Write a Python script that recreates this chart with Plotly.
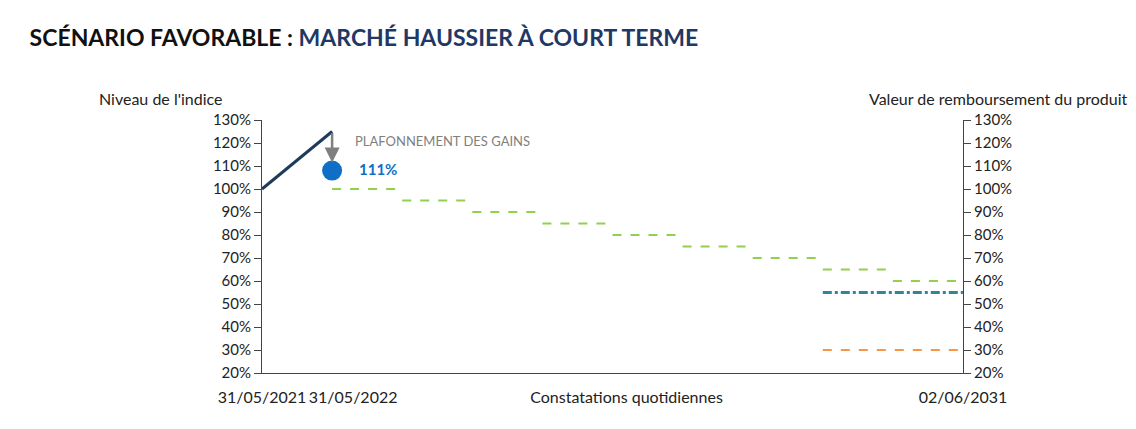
import plotly.graph_objects as go

# data
index_x = [0, 1]
index_y = [100, 125]
cap_x = [1]
cap_y = [108]
step_years = [1, 2, 3, 4, 5, 6, 7, 8, 9, 10]
step_levels = [100, 95, 90, 85, 80, 75, 70, 65, 60]
barrier_level = 55
protection_level = 30
tick_vals = [0, 1.3, 5.2, 10]
tick_text = ["31/05/2021", "31/05/2022", "Constatations quotidiennes", "02/06/2031"]
y_ticks = list(range(20, 131, 10))

fig = go.Figure()
fig.add_trace(go.Scatter(x=index_x, y=index_y, mode="lines",
                         line=dict(color="#1f3b5c", width=3), showlegend=False))
for i, lvl in enumerate(step_levels):
    fig.add_trace(go.Scatter(x=[step_years[i], step_years[i + 1]], y=[lvl, lvl], mode="lines",
                             line=dict(color="#92d050", width=2, dash="dash"), showlegend=False))
fig.add_trace(go.Scatter(x=[8, 10], y=[barrier_level] * 2, mode="lines",
                         line=dict(color="#31849b", width=3, dash="dashdot"), showlegend=False))
fig.add_trace(go.Scatter(x=[8, 10], y=[protection_level] * 2, mode="lines",
                         line=dict(color="#f79646", width=2, dash="dash"), showlegend=False))
fig.add_trace(go.Scatter(x=cap_x, y=cap_y, mode="markers",
                         marker=dict(color="#0f6fc6", size=20), showlegend=False))
fig.add_trace(go.Scatter(x=[0, 10], y=[20, 20], yaxis="y2", mode="lines",
                         line=dict(width=0), hoverinfo="skip", showlegend=False))

fig.add_annotation(x=1, y=111.5, ax=1, ay=125, xref="x", yref="y", axref="x", ayref="y",
                   showarrow=True, arrowhead=2, arrowsize=1.2, arrowwidth=2.5,
                   arrowcolor="#7f7f7f", text="")
fig.add_annotation(x=1.3, y=121, xref="x", yref="y", text="PLAFONNEMENT DES GAINS",
                   showarrow=False, xanchor="left", font=dict(size=13, color="#7f7f7f"))
fig.add_annotation(x=1.35, y=108.5, xref="x", yref="y", text="<b>111%</b>",
                   showarrow=False, xanchor="left", font=dict(size=15, color="#0f6fc6"))

fig.add_annotation(x=0, y=1.0, xref="paper", yref="paper", yshift=10, xshift=-38,
                   text="Niveau de l'indice", showarrow=False, xanchor="right", yanchor="bottom",
                   font=dict(size=16, color="#222"))
fig.add_annotation(x=1, y=1.0, xref="paper", yref="paper", yshift=10, xshift=167,
                   text="Valeur de remboursement du produit", showarrow=False,
                   xanchor="right", yanchor="bottom", font=dict(size=16, color="#222"))

axis_common = dict(range=[20, 130], tickvals=y_ticks, ticktext=[f"{v}%" for v in y_ticks],
                   showgrid=False, zeroline=False, showline=True, linecolor="#444",
                   ticks="outside", ticklen=7, tickcolor="#444", tickfont=dict(size=15, color="#222"))

fig.update_layout(
    width=1136, height=429,
    margin=dict(l=254, r=181, t=112, b=64),
    paper_bgcolor="white", plot_bgcolor="white",
    font=dict(family="Lato, Open Sans, sans-serif"),
    title=dict(text="<b>SCÉNARIO FAVORABLE : <span style='color:#1f3864'>MARCHÉ HAUSSIER À COURT TERME</span></b>",
               x=0.019, xanchor="left", y=0.93, yanchor="middle",
               font=dict(size=23, color="#111")),
    xaxis=dict(range=[0, 10], tickvals=tick_vals, ticktext=tick_text, showgrid=False,
               zeroline=False, showline=True, linecolor="#444", ticks="outside",
               ticklen=10, tickcolor="rgba(0,0,0,0)",
               tickfont=dict(size=16, color="#222")),
    yaxis=axis_common,
    yaxis2=dict(axis_common, overlaying="y", side="right"),
)

fig.write_html("out.html")
